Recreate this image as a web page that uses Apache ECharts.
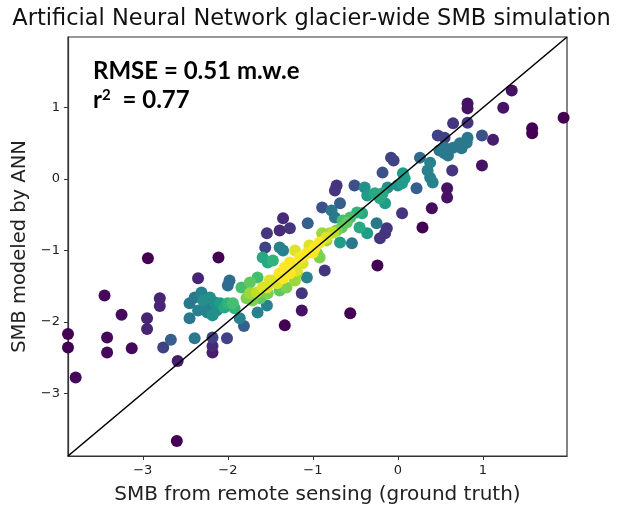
<!DOCTYPE html>
<html>
<head>
<meta charset="utf-8">
<script src="https://cdn.jsdelivr.net/npm/echarts@6/dist/echarts.min.js"></script>
<style>html,body{margin:0;padding:0;background:#fff;}#c{width:623px;height:512px;}</style>
</head>
<body>
<div id="c"></div>
<script>
// Ground truth (remote sensing) SMB
const xTruth = [
-2.94,-3.45,-3.25,-2.80,-2.80,-2.95,-2.95,-3.88,-3.88,-3.42,-3.42,-3.13,-2.76,-2.67,-2.59,-3.79,-2.60,-2.11,-2.35,
-1.98,-2.00,-2.45,-2.39,-2.31,-2.29,-2.25,-2.21,-2.15,-2.13,-2.09,-2.04,-2.00,-1.94,-1.92,-2.45,-2.35,-2.18,-2.24,
-1.81,-2.39,-2.18,-2.18,-2.18,-2.01,-1.86,-1.65,-1.54,
-1.84,-1.74,-1.65,-1.74,-1.66,-1.59,-1.51,-1.53,-1.42,-1.35,-1.27,-1.19,-1.12,-1.39,-1.31,-1.21,-1.71,-1.62,-1.78,
-1.07,-1.13,-1.13,-1.33,
-0.72,-0.74,-0.51,-0.39,-0.36,-0.27,-0.21,-0.15,-0.12,-0.89,-0.68,-0.78,-0.74,-1.35,-1.39,-1.27,-1.54,-1.06,
-0.65,-0.56,-0.48,-0.42,-0.66,-0.72,-0.45,-0.36,-0.25,-0.15,-0.21,-0.89,-0.84,-0.80,-0.68,-0.54,
-1.04,-1.00,-1.07,-1.15,-1.21,-1.33,-1.39,-1.47,-1.54,-0.86,-0.24,-1.59,-1.53,-1.47,-1.39,-1.35,-1.56,
-1.24,-1.19,-0.95,-0.92,-0.92,-0.84,-0.76,-0.60,-0.98,-1.27,
-0.08,-0.05,0.26,0.49,0.55,0.59,0.38,0.35,0.38,0.41,0.64,-0.18,0.06,0.08,0.05,0.00,0.22,0.58,0.58,0.40,0.29,0.05,-0.13,
1.34,0.82,0.82,1.24,1.58,1.58,1.95,0.65,0.82,0.47,0.55,0.99,1.12,0.55,0.65,0.73,0.81,0.82,0.75,0.99,-0.56,-0.18
];
// ANN modeled SMB
const yModel = [
-1.11,-1.63,-1.90,-1.67,-1.78,-1.95,-2.10,-2.17,-2.36,-2.22,-2.43,-2.37,-2.36,-2.25,-2.55,-2.78,-3.67,-1.10,-1.39,
-1.42,-1.49,-1.74,-1.66,-1.59,-1.70,-1.80,-1.66,-1.73,-1.84,-1.74,-1.80,-1.74,-1.74,-1.81,-1.95,-1.84,-1.91,-1.87,
-2.06,-2.23,-2.22,-2.34,-2.43,-2.23,-1.95,-1.87,-1.77,
-1.52,-1.45,-1.38,-1.60,-1.59,-1.52,-1.42,-1.60,-1.46,-1.39,-1.32,-1.28,-1.18,-1.56,-1.52,-1.42,-1.70,-1.67,-1.67,
-1.38,-1.60,-1.84,-2.05,
-0.09,-0.16,-0.09,-0.12,-0.23,-0.20,-0.27,-0.34,-0.12,-0.40,-0.34,-0.44,-0.54,-0.55,-0.72,-0.69,-0.76,-0.62,
-0.58,-0.54,-0.47,-0.48,-0.68,-0.72,-0.68,-0.76,-0.62,-0.76,-0.83,-0.76,-0.86,-0.76,-0.89,-0.90,
-0.93,-1.03,-1.04,-1.10,-1.00,-1.24,-1.32,-1.42,-1.52,-1.28,-1.21,-1.10,-1.17,-1.14,-0.96,-1.00,-0.96,
-1.25,-1.32,-1.04,-1.10,-0.89,-0.82,-0.75,-0.61,-0.97,-1.17,
0.30,0.26,0.30,0.40,0.36,0.33,0.23,0.12,0.02,-0.05,0.12,0.09,0.08,0.01,-0.06,-0.09,-0.13,-0.13,-0.26,-0.41,-0.68,-0.48,-0.69,
1.24,1.06,0.99,1.00,0.71,0.64,0.86,0.78,0.79,0.61,0.58,0.61,0.55,0.44,0.44,0.50,0.51,0.58,0.43,0.19,-1.88,-0.20
];
// point density (colour scale, 0 = sparse, 1 = dense)
const density = [
0.00,0.02,0.03,0.10,0.10,0.10,0.10,0.00,0.00,0.02,0.02,0.02,0.20,0.30,0.08,0.02,0.00,0.00,0.10,
0.35,0.35,0.40,0.40,0.45,0.50,0.45,0.50,0.50,0.50,0.55,0.60,0.65,0.70,0.65,0.40,0.45,0.50,0.45,
0.30,0.40,0.20,0.12,0.08,0.20,0.45,0.45,0.45,
0.70,0.75,0.70,0.85,0.90,0.95,0.95,0.80,0.95,1.00,1.00,0.95,0.95,0.75,0.80,0.85,0.80,0.75,0.80,
0.45,0.15,0.05,0.00,
0.15,0.15,0.25,0.50,0.55,0.60,0.60,0.55,0.50,0.25,0.30,0.40,0.40,0.12,0.12,0.15,0.15,0.30,
0.70,0.70,0.65,0.60,0.75,0.80,0.60,0.55,0.40,0.15,0.15,0.85,0.85,0.85,0.55,0.40,
0.95,1.00,1.00,1.00,0.95,1.00,1.00,0.95,0.95,0.15,0.00,0.60,0.60,0.65,0.45,0.45,0.20,
0.80,0.85,0.80,0.80,1.00,0.95,0.90,0.75,1.00,1.00,
0.20,0.20,0.35,0.40,0.40,0.40,0.45,0.45,0.45,0.45,0.15,0.25,0.55,0.55,0.55,0.50,0.30,0.05,0.05,0.03,0.00,0.15,0.15,
0.05,0.05,0.05,0.05,0.00,0.00,0.00,0.15,0.15,0.20,0.20,0.25,0.08,0.40,0.40,0.40,0.40,0.40,0.40,0.05,0.00,0.60
];
const xTicks = [-3, -2, -1, 0, 1];
const yTicks = [-3, -2, -1, 0, 1];
const axisMin = -3.88, axisMax = 1.99;

const pts = xTruth.map((x, i) => [x, yModel[i], density[i]]).sort((a, b) => a[2] - b[2]);
const fmt = v => String(v).replace('-', '\u2212');

const chart = echarts.init(document.getElementById('c'), null, {renderer: 'canvas'});
const axisCommon = {
  type: 'value', min: axisMin, max: axisMax, splitLine: {show: false},
  axisLine: {show: true, onZero: false, lineStyle: {color: '#333', width: 1.2}},
  axisTick: {show: true, length: 4, lineStyle: {color: '#333'}},
  axisLabel: {color: '#222', fontSize: 13, fontFamily: 'DejaVu Sans', formatter: fmt},
  nameLocation: 'middle',
  nameTextStyle: {color: '#222', fontSize: 20, fontFamily: 'DejaVu Sans'}
};
chart.setOption({
  animation: false,
  backgroundColor: '#fff',
  title: {text: 'Artificial Neural Network glacier-wide SMB simulation', left: 'center', top: 3,
    textStyle: {fontFamily: 'DejaVu Sans', fontWeight: 'normal', fontSize: 22.5, color: '#111'}},
  grid: {left: 68, right: 56, top: 37, bottom: 56, show: true, borderColor: '#333', borderWidth: 1.2},
  xAxis: Object.assign({}, axisCommon, {name: 'SMB from remote sensing (ground truth)', nameGap: 29,
    axisTick: Object.assign({}, axisCommon.axisTick, {customValues: xTicks}),
    axisLabel: Object.assign({}, axisCommon.axisLabel, {customValues: xTicks, margin: 8})}),
  yAxis: Object.assign({}, axisCommon, {name: 'SMB modeled by ANN', nameGap: 36,
    nameTextStyle: {color: '#222', fontSize: 19.5, fontFamily: 'DejaVu Sans'},
    axisTick: Object.assign({}, axisCommon.axisTick, {customValues: yTicks}),
    axisLabel: Object.assign({}, axisCommon.axisLabel, {customValues: yTicks, margin: 8})}),
  visualMap: {show: false, dimension: 2, min: 0, max: 1, seriesIndex: 0,
    inRange: {color: ['#440154','#482878','#3e4989','#31688e','#26828e','#1f9e89','#35b779','#6ece58','#b5de2b','#fde725']}},
  series: [
    {type: 'scatter', data: pts, symbolSize: 12, itemStyle: {opacity: 1}, z: 2},
    {type: 'line', data: [[axisMin, axisMin], [axisMax, axisMax]], symbol: 'none', silent: true,
      lineStyle: {color: '#000', width: 1.6}, z: 3}
  ],
  graphic: [
    {type: 'text', left: 93, top: 59, z: 10, style: {text: 'RMSE = 0.51 m.w.e', fill: '#000',
      fontSize: 24, fontWeight: 'bold', fontFamily: 'Lato'}},
    {type: 'text', left: 93, top: 88, z: 10, style: {text: 'r{s|2} = 0.77', fill: '#000',
      fontSize: 24, fontWeight: 'bold', fontFamily: 'Lato',
      rich: {s: {fontSize: 15, fontWeight: 'bold', fontFamily: 'Lato', verticalAlign: 'top', padding: [0, 6, 10, 0]}}}}
  ]
});
</script>
</body>
</html>
